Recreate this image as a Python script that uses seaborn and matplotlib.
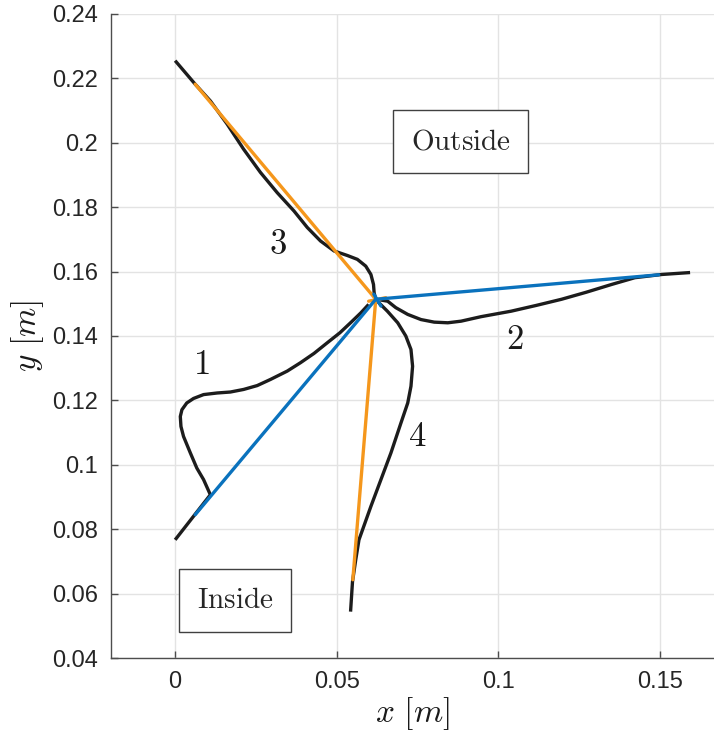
import numpy as np
import pandas as pd
import matplotlib
matplotlib.use("Agg")
import matplotlib.pyplot as plt
import seaborn as sns

# leg curves (black)
leg1_x = [0.0, 0.0109, 0.0088, 0.0067, 0.0047, 0.0026, 0.0018, 0.0016, 0.0021, 0.0036, 0.0057, 0.0088,
          0.0130, 0.0171, 0.0212, 0.0254, 0.0295, 0.0347, 0.0388, 0.0430, 0.0471, 0.0510, 0.0545, 0.0575, 0.0599]
leg1_y = [0.0767, 0.0907, 0.0954, 0.0990, 0.1037, 0.1088, 0.1119, 0.1150, 0.1171, 0.1192, 0.1206, 0.1218,
          0.1223, 0.1226, 0.1234, 0.1246, 0.1265, 0.1291, 0.1317, 0.1346, 0.1379, 0.1410, 0.1443, 0.1472, 0.1498]

leg2_x = [0.0635, 0.0658, 0.0683, 0.0720, 0.0761, 0.0802, 0.0844, 0.0885, 0.0947, 0.1040, 0.1118,
          0.1196, 0.1273, 0.1351, 0.1423, 0.1506, 0.1594]
leg2_y = [0.1512, 0.1508, 0.1488, 0.1467, 0.1451, 0.1443, 0.1441, 0.1446, 0.1460, 0.1477, 0.1495,
          0.1514, 0.1536, 0.1560, 0.1581, 0.1591, 0.1597]

leg3_x = [0.0, 0.0062, 0.0109, 0.0161, 0.0212, 0.0264, 0.0316, 0.0368, 0.0409, 0.0450, 0.0492, 0.0533,
          0.0564, 0.0590, 0.0606, 0.0614, 0.0616, 0.0621]
leg3_y = [0.2255, 0.2182, 0.2130, 0.2058, 0.1980, 0.1908, 0.1845, 0.1788, 0.1737, 0.1695, 0.1664, 0.1650,
          0.1638, 0.1617, 0.1591, 0.1560, 0.1534, 0.1514]

leg4_x = [0.0543, 0.0549, 0.0559, 0.0569, 0.0606, 0.0637, 0.0668, 0.0699, 0.0720, 0.0730, 0.0735, 0.0730,
          0.0714, 0.0689, 0.0657, 0.0626]
leg4_y = [0.0544, 0.0637, 0.0705, 0.0767, 0.0871, 0.0954, 0.1037, 0.1130, 0.1192, 0.1244, 0.1306, 0.1358,
          0.1400, 0.1441, 0.1477, 0.1508]

# straight links
blue_x = [[0.0062, 0.0621], [0.0621, 0.1497], [0.0615, 0.0637]]
blue_y = [[0.0845, 0.1514], [0.1514, 0.1590], [0.1530, 0.1493]]
orange_x = [[0.0062, 0.0621], [0.0621, 0.0550], [0.0599, 0.0652]]
orange_y = [[0.2182, 0.1514], [0.1514, 0.0643], [0.1508, 0.1519]]

leg_labels = ["1", "2", "3", "4"]
label_x = [0.0081, 0.1050, 0.0317, 0.0748]
label_y = [0.1311, 0.1389, 0.1685, 0.1087]

sns.set_theme(style="whitegrid")
plt.rcParams["font.family"] = ["Liberation Sans", "DejaVu Sans"]
plt.rcParams["mathtext.fontset"] = "cm"

fig = plt.figure(figsize=(7.14, 7.39), dpi=100)
ax = fig.add_axes([0.1548, 0.1096, 0.8452, 0.8715])

black = "#1c1c1c"
blue = "#0a72bd"
orange = "#f5971c"

for xs, ys in [(leg1_x, leg1_y), (leg2_x, leg2_y), (leg3_x, leg3_y), (leg4_x, leg4_y)]:
    df = pd.DataFrame({"x": xs, "y": ys})
    sns.lineplot(data=df, x="x", y="y", sort=False, estimator=None, color=black, lw=2.4,
                 solid_joinstyle="round", solid_capstyle="butt", ax=ax)

for xs, ys in zip(orange_x, orange_y):
    sns.lineplot(x=xs, y=ys, sort=False, estimator=None, color=orange, lw=2.4, ax=ax)
for xs, ys in zip(blue_x, blue_y):
    sns.lineplot(x=xs, y=ys, sort=False, estimator=None, color=blue, lw=2.4, ax=ax)

for t, lx, ly in zip(leg_labels, label_x, label_y):
    ax.text(lx, ly, f"${t}$", fontsize=25, ha="center", va="center", color="#1a1a1a")

box = dict(boxstyle="square,pad=0.6", fc="white", ec="#404040", lw=1.0)
ax.text(0.0884, 0.2003, r"$\mathrm{Outside}$", fontsize=21, ha="center", va="center", bbox=box)
ax.text(0.0186, 0.0579, r"$\mathrm{Inside}$", fontsize=21, ha="center", va="center", bbox=box)

ax.set_xlim(-0.02, 0.1668)
ax.set_ylim(0.04, 0.24)
ax.set_xticks([0, 0.05, 0.1, 0.15])
ax.set_xticklabels(["0", "0.05", "0.1", "0.15"])
yt = [0.04, 0.06, 0.08, 0.1, 0.12, 0.14, 0.16, 0.18, 0.2, 0.22, 0.24]
ax.set_yticks(yt)
ax.set_yticklabels([f"{v:g}" for v in yt])
ax.set_xlabel(r"$x\ [m]$", fontsize=24, color="#1a1a1a", labelpad=2)
ax.set_ylabel(r"$y\ [m]$", fontsize=24, color="#1a1a1a", labelpad=4)

ax.grid(True, color="#e3e3e3", lw=1.0)
ax.set_facecolor("white")
for s in ["top", "right"]:
    ax.spines[s].set_visible(False)
for s in ["left", "bottom"]:
    ax.spines[s].set_color("#4d4d4d")
    ax.spines[s].set_linewidth(1.0)
ax.tick_params(direction="in", length=5, width=1.0, color="#4d4d4d",
               labelsize=17, labelcolor="#262626", bottom=True, left=True, pad=9)

fig.savefig("out.png", dpi=100)
